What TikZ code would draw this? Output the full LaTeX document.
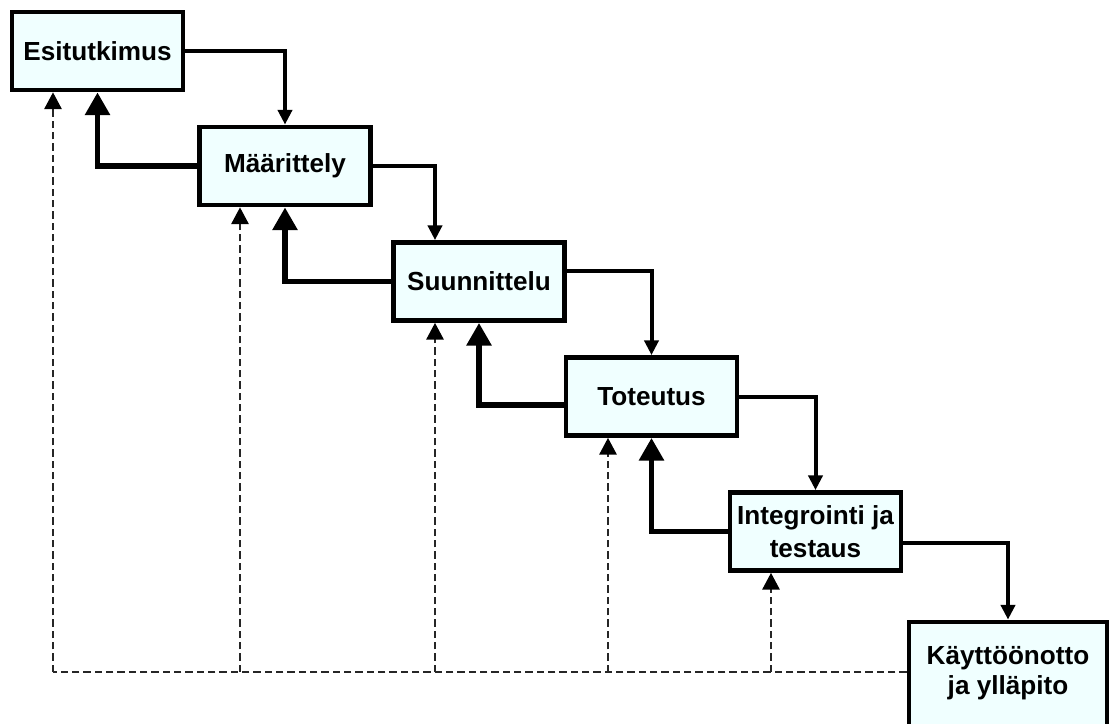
\documentclass[tikz,border=0pt]{standalone}
\usepackage{fontspec}
\setmainfont{Liberation Sans}
\usetikzlibrary{arrows.meta}
\definecolor{boxfill}{HTML}{F0FFFF}
\begin{document}
\begin{tikzpicture}[x=0.75pt,y=-0.75pt,
  phase/.style={draw=black, line width=3.6pt, fill=boxfill, inner sep=0pt,
    minimum width=128.25pt, minimum height=58.5pt, align=center,
    font=\bfseries\fontsize{19.6}{24.5}\selectfont},
  lbl/.style={inner sep=0pt, align=center, font=\bfseries\fontsize{19.6}{23}\selectfont},
  fwd/.style={line width=3pt, -{Triangle[width=10.5pt,length=11pt]}},
  back/.style={line width=4.2pt, -{Triangle[width=18pt,length=17pt]}},
  fb/.style={line width=1.2pt, dash pattern=on 5.5pt off 3pt, black!85},
  fbarrow/.style={fb, -{Triangle[width=13pt,length=12.5pt,black]}}]
\useasboundingbox (0,0) rectangle (1111,724);
\fill[white] (0,0) rectangle (1111,724);
\clip (0,0) rectangle (1111,724);

% phases of the waterfall model
\node[phase] (b1) at (97.5,51)  {Esitutkimus};
\node[phase] (b2) at (285,166)  {Määrittely};
\node[phase] (b3) at (479,281.5) {Suunnittelu};
\node[phase] (b4) at (651.5,396.5) {Toteutus};
\node[phase] (b5) at (815.5,531.5) {Integrointi ja\\testaus};
\node[phase, minimum width=148.5pt, minimum height=120pt] (b6) at (1008,702) {};
\node[lbl] (t6) at (1008,673) {Käyttöönotto\\ja ylläpito};

% helper coordinates for lines that leave off-centre
\coordinate (f23) at (435,0);
\coordinate (f34) at (0,271);
\coordinate (f56) at (0,543);
\coordinate (k4) at (0,405);

% forward flow
\draw[fwd] (b1.east) -| (b2.north);
\draw[fwd] (b2.east) -| (f23 |- b3.north);
\draw[fwd] (b3.east |- f34) -| (b4.north);
\draw[fwd] (b4.east) -| (b5.north);
\draw[fwd] (b5.east |- f56) -| (b6.north);

% iteration back to the previous phase
\draw[back] (b2.west) -| (b1.south);
\draw[back] (b3.west) -| (b2.south);
\draw[back] (b4.west |- k4) -| (b3.south);
\draw[back] (b5.west) -| (b4.south);

% feedback from maintenance to every earlier phase
\coordinate (d1) at (53,672);
\coordinate (d2) at (240,672);
\coordinate (d3) at (435,672);
\coordinate (d4) at (608,672);
\coordinate (d5) at (771,672);
\draw[fb] (b6.west |- d1) -- (d1);
\draw[fbarrow] (d1) -- (d1 |- b1.south);
\draw[fbarrow] (d2) -- (d2 |- b2.south);
\draw[fbarrow] (d3) -- (d3 |- b3.south);
\draw[fbarrow] (d4) -- (d4 |- b4.south);
\draw[fbarrow] (d5) -- (d5 |- b5.south);
\end{tikzpicture}
\end{document}
